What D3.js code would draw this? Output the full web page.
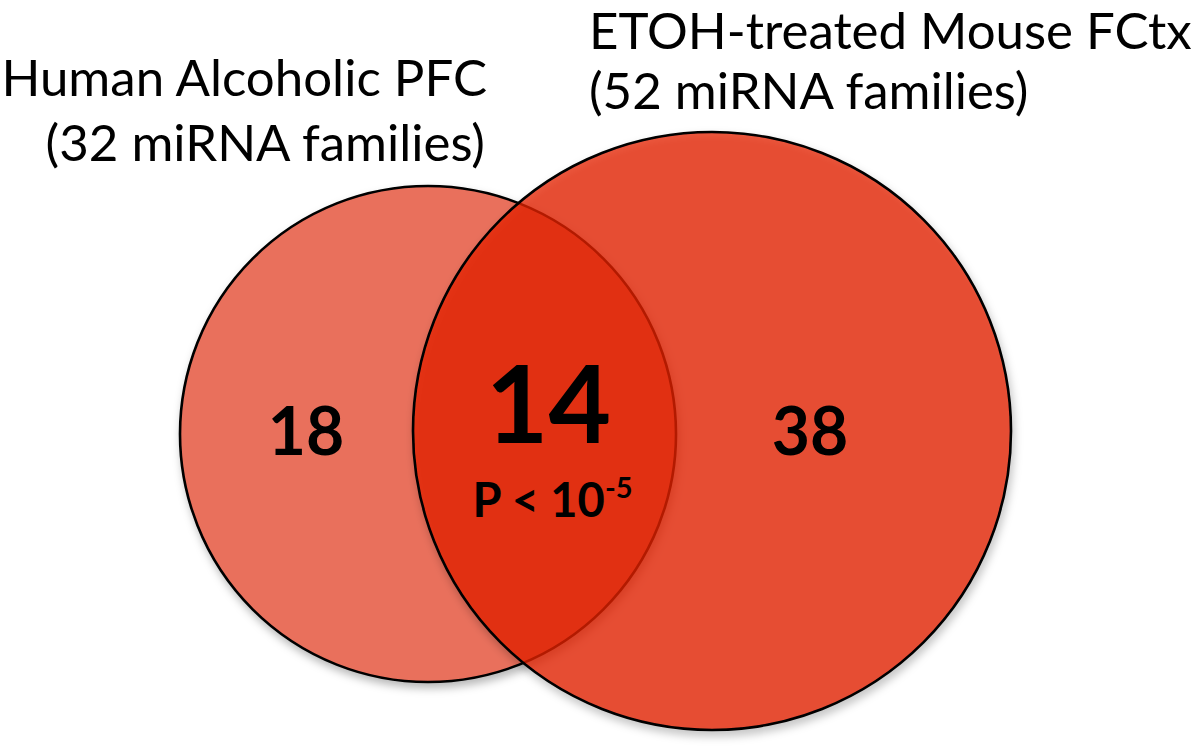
<!DOCTYPE html>
<html>
<head>
<meta charset="utf-8">
<script src="https://cdn.jsdelivr.net/npm/d3@7"></script>
<style>
  html, body { margin: 0; padding: 0; background: #ffffff; }
  svg { display: block; }
</style>
</head>
<body>
<svg id="chart" width="1200" height="747"></svg>
<script>
// ---- data ----
const setNames = ["Human Alcoholic PFC", "ETOH-treated Mouse FCtx"];
const setSubtitles = ["(32 miRNA families)", "(52 miRNA families)"];
const setTotals = [32, 52];
const regionNames = ["human only", "shared", "mouse only"];
const regionCounts = [18, 14, 38];
const pValueBase = "P < 10";
const pValueExponent = "-5";

// ---- layout ----
const W = 1200, H = 747;
const svg = d3.select("#chart");

const defs = svg.append("defs");
const f = defs.append("filter").attr("id", "shadow")
  .attr("x", "-10%").attr("y", "-10%").attr("width", "125%").attr("height", "125%");
f.append("feDropShadow").attr("dx", 2).attr("dy", 5).attr("stdDeviation", 4)
  .attr("flood-color", "#000").attr("flood-opacity", 0.28);

const cx = d3.scaleOrdinal().domain(setNames).range([428, 712]);
const cy = d3.scaleOrdinal().domain(setNames).range([434, 431]);
const r = d3.scaleLinear().domain([32, 52]).range([248, 299]);
const fills = d3.scaleOrdinal().domain(setNames).range(["#e96f5c", "#e62000"]);
const fillOpacity = d3.scaleOrdinal().domain(setNames).range([1, 0.75]);

const sets = setNames.map((n, i) => ({ name: n, total: setTotals[i], sub: setSubtitles[i] }));

svg.append("g").selectAll("circle")
  .data(sets).join("circle")
  .attr("cx", d => cx(d.name))
  .attr("cy", d => cy(d.name))
  .attr("r", d => r(d.total))
  .attr("fill", d => fills(d.name))
  .attr("fill-opacity", d => fillOpacity(d.name))
  .attr("stroke", "#000")
  .attr("stroke-width", 2.6)
  .attr("filter", "url(#shadow)");

// set titles
const font = "Lato, 'Open Sans', sans-serif";
const titleSize = 51;
const leftT = svg.append("text")
  .attr("font-family", font).attr("font-size", titleSize)
  .attr("text-anchor", "end").attr("fill", "#000");
leftT.append("tspan").attr("x", 487).attr("y", 96).text(setNames[0]);
leftT.append("tspan").attr("x", 485).attr("y", 161).text(setSubtitles[0]);

const rx = 589;
const rightLine1 = svg.append("text")
  .attr("font-family", font).attr("font-size", titleSize)
  .attr("x", rx).attr("y", 49).attr("fill", "#000").text(setNames[1]);
// shrink to fit inside the frame
const bb = rightLine1.node().getBBox();
const maxRight = W - 8;
if (bb.x + bb.width > maxRight) {
  rightLine1.attr("font-size", titleSize * (maxRight - rx) / (bb.x + bb.width - rx));
}

svg.append("text")
  .attr("font-family", font).attr("font-size", titleSize)
  .attr("x", rx).attr("y", 109).attr("fill", "#000").text(setSubtitles[1]);

// region counts
const rL = r(setTotals[0]), rR = r(setTotals[1]);
const lensLeft = cx(setNames[1]) - rR, lensRight = cx(setNames[0]) + rL;
const regionX = [cx(setNames[0]) - 122, (lensLeft + lensRight) / 2 + 4, cx(setNames[1]) + 98];
const regionY = [455, 443, 455];
const regionSize = [66, 108, 66];

svg.append("g").selectAll("text")
  .data(regionCounts).join("text")
  .attr("x", (d, i) => regionX[i])
  .attr("y", (d, i) => regionY[i])
  .attr("font-size", (d, i) => regionSize[i])
  .attr("font-family", font)
  .attr("font-weight", "bold")
  .attr("text-anchor", "middle")
  .attr("fill", "#000")
  .text(d => d);

const pT = svg.append("text")
  .attr("x", regionX[1] + 4).attr("y", 517)
  .attr("font-family", font).attr("font-weight", "bold")
  .attr("font-size", 47).attr("text-anchor", "middle").attr("fill", "#000");
pT.append("tspan").text(pValueBase);
pT.append("tspan").attr("font-size", 29).attr("dy", -19).text(pValueExponent);
</script>
</body>
</html>
